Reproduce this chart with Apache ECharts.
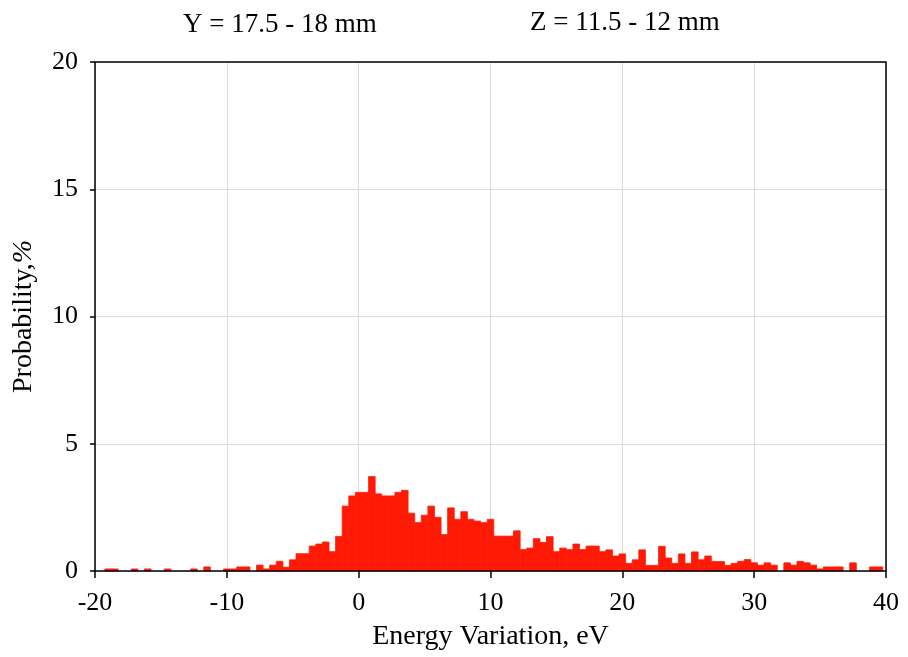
<!DOCTYPE html>
<html>
<head>
<meta charset="utf-8">
<script src="https://cdn.jsdelivr.net/npm/echarts@6/dist/echarts.min.js"></script>
<style>
  html, body { margin: 0; padding: 0; background: #fff; }
  #hist { width: 908px; height: 657px; }
</style>
</head>
<body>
<div id="hist"></div>
<script>
// bin centres (eV), bin width 0.5
var energyBins = [
  -19, -18.5, -18, -17.5, -17, -16.5, -16, -15.5, -15, -14.5,
  -14, -13.5, -13, -12.5, -12, -11.5, -11, -10.5, -10, -9.5,
  -9, -8.5, -8, -7.5, -7, -6.5, -6, -5.5, -5, -4.5,
  -4, -3.5, -3, -2.5, -2, -1.5, -1, -0.5, 0, 0.5,
  1, 1.5, 2, 2.5, 3, 3.5, 4, 4.5, 5, 5.5,
  6, 6.5, 7, 7.5, 8, 8.5, 9, 9.5, 10, 10.5,
  11, 11.5, 12, 12.5, 13, 13.5, 14, 14.5, 15, 15.5,
  16, 16.5, 17, 17.5, 18, 18.5, 19, 19.5, 20, 20.5,
  21, 21.5, 22, 22.5, 23, 23.5, 24, 24.5, 25, 25.5,
  26, 26.5, 27, 27.5, 28, 28.5, 29, 29.5, 30, 30.5,
  31, 31.5, 32, 32.5, 33, 33.5, 34, 34.5, 35, 35.5,
  36, 36.5, 37, 37.5, 38, 38.5, 39, 39.5
];
// probability, %
var probability = [
  0.08, 0.08, 0, 0, 0.08, 0, 0.08, 0, 0, 0.08,
  0, 0, 0, 0.08, 0, 0.16, 0, 0, 0.08, 0.08,
  0.16, 0.16, 0, 0.23, 0.08, 0.23, 0.38, 0.15, 0.44, 0.68,
  0.68, 0.98, 1.06, 1.14, 0.76, 1.36, 2.55, 2.95, 3.09, 3.09,
  3.71, 3.03, 2.95, 2.95, 3.09, 3.17, 2.27, 1.9, 2.19, 2.55,
  2.11, 1.43, 2.48, 2.03, 2.33, 2.03, 1.96, 1.9, 2.03, 1.37,
  1.37, 1.37, 1.58, 0.84, 0.9, 1.27, 1.12, 1.35, 0.76, 0.9,
  0.84, 1.06, 0.84, 0.98, 0.98, 0.76, 0.83, 0.59, 0.67, 0.3,
  0.44, 0.83, 0.22, 0.22, 0.97, 0.51, 0.3, 0.67, 0.3, 0.75,
  0.44, 0.59, 0.37, 0.37, 0.22, 0.3, 0.38, 0.45, 0.32, 0.23,
  0.32, 0.23, 0, 0.32, 0.23, 0.38, 0.32, 0.23, 0.08, 0.16,
  0.16, 0.16, 0, 0.32, 0, 0, 0.16, 0.16
];
var binWidth = 0.5;
var titles = ['Y = 17.5 - 18 mm', 'Z = 11.5 - 12 mm'];

var font = "'Liberation Serif', 'Times New Roman', serif";
var barColor = '#ff1a05';
var myChart = echarts.init(document.getElementById('hist'));

var data = energyBins.map(function (e, i) { return [e, probability[i]]; });

option = {
    animation: false,
    backgroundColor: '#fff',
    title: [
        { text: titles[0], left: 178, top: 6, textStyle: { fontFamily: font, fontSize: 27, fontWeight: 'normal', color: '#000' } },
        { text: titles[1], left: 525, top: 4, textStyle: { fontFamily: font, fontSize: 27, fontWeight: 'normal', color: '#000' } }
    ],
    grid: {
        left: 95, right: 22, top: 62, bottom: 86,
        show: true, z: 10,
        borderColor: '#000', borderWidth: 1.5,
        backgroundColor: 'transparent'
    },
    xAxis: {
        type: 'value',
        min: -20, max: 40, interval: 10,
        name: 'Energy Variation, eV',
        nameLocation: 'middle',
        nameGap: 52,
        nameTextStyle: { fontFamily: font, fontSize: 28, color: '#000' },
        axisLine: { show: false, onZero: false },
        axisTick: { show: true, inside: false, length: 7, lineStyle: { color: '#000', width: 1.5 } },
        axisLabel: { margin: 19, fontFamily: font, fontSize: 26, color: '#000' },
        splitLine: { show: true, lineStyle: { color: '#dcdcdc', width: 1 } }
    },
    yAxis: {
        type: 'value',
        min: 0, max: 20, interval: 5,
        name: 'Probability,{i|%}',
        nameLocation: 'middle',
        nameGap: 57,
        nameTextStyle: {
            fontFamily: font, fontSize: 28, color: '#000',
            rich: { i: { fontFamily: font, fontSize: 28, fontStyle: 'italic', color: '#000' } }
        },
        axisLine: { show: false, onZero: false },
        axisTick: { show: true, inside: false, length: 5, lineStyle: { color: '#000', width: 1.5 } },
        axisLabel: { margin: 17, fontFamily: font, fontSize: 26, color: '#000' },
        splitLine: { show: true, lineStyle: { color: '#dcdcdc', width: 1 } }
    },
    series: [{
        type: 'custom',
        data: data,
        renderItem: function (params, api) {
            var x = api.value(0), y = api.value(1);
            if (!y) { return null; }
            var p0 = api.coord([x - binWidth / 2, y]);
            var p1 = api.coord([x + binWidth / 2, 0]);
            return {
                type: 'rect',
                shape: { x: p0[0], y: p0[1], width: p1[0] - p0[0], height: p1[1] - p0[1] },
                style: { fill: barColor, stroke: barColor, lineWidth: 0.8 }
            };
        }
    }]
};
myChart.setOption(option);
</script>
</body>
</html>
